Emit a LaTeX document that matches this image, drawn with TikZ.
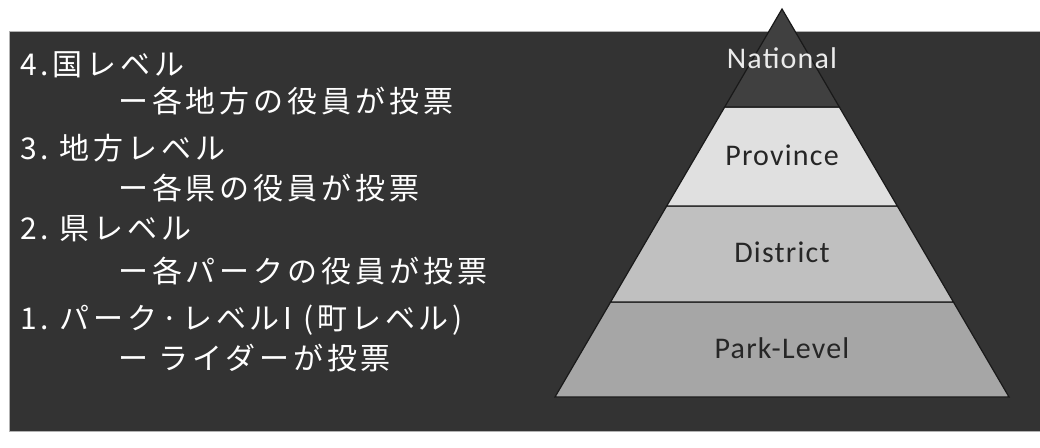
\documentclass[tikz,border=0pt]{standalone}
\usepackage{fontspec}
\newfontfamily\jp[LetterSpace=13]{Noto Sans CJK JP}
\newfontfamily\lat[LetterSpace=4]{Carlito}
\definecolor{bgdark}{HTML}{333333}
\definecolor{natfill}{HTML}{404040}
\definecolor{provfill}{HTML}{E0E0E0}
\definecolor{distfill}{HTML}{C0C0C0}
\definecolor{parkfill}{HTML}{A6A6A6}
\definecolor{txtdark}{HTML}{262626}
\tikzset{
  layer/.style={draw=black!90, line width=1.2pt, line join=miter},
  jptext/.style={anchor=base west, inner sep=0pt, text=white, font=\jp\fontsize{30}{30}\selectfont},
  lvl/.style={anchor=center, inner sep=0pt, font=\lat\fontsize{30}{30}\selectfont},
}
\begin{document}
\begin{tikzpicture}[x=1pt,y=-1pt]
\useasboundingbox (0,0) rectangle (1040,447);
\fill[white] (0,0) rectangle (1040,447);
\draw[fill=bgdark, draw=gray!60, line width=1pt] (9,31) rectangle (1045,431);
% pyramid
\draw[layer, fill=parkfill] (610.6,302) -- (953.4,302) -- (1009,397) -- (555,397) -- cycle;
\draw[layer, fill=distfill] (666.7,206) -- (897.3,206) -- (953.4,302) -- (610.6,302) -- cycle;
\draw[layer, fill=provfill] (724.7,107) -- (839.3,107) -- (897.3,206) -- (666.7,206) -- cycle;
\draw[layer, fill=natfill] (782,9) -- (839.3,107) -- (724.7,107) -- cycle;
\node[lvl, text=white!92!black] (nat) at (782,58) {National};
\node[lvl, text=txtdark] (prov) at (782,155) {Province};
\node[lvl, text=txtdark] (dist) at (782,252) {District};
\node[lvl, text=txtdark] (park) at (782,348) {Park-Level};
% left text
\node[jptext] (l4) at (20,75) {4.国レベル};
\node[jptext] (l4b) at (118,112) {ー各地方の役員が投票};
\node[jptext] (l3) at (20,159) {3.~地方レベル};
\node[jptext] (l3b) at (118,199) {ー各県の役員が投票};
\node[jptext] (l2) at (20,239) {2.~県レベル};
\node[jptext] (l2b) at (118,282) {ー各パークの役員が投票};
\node[jptext] (l1) at (20,329) {1.~パーク·レベルI (町レベル)};
\node[jptext] (l1b) at (118,369) {ー ライダーが投票};
\end{tikzpicture}
\end{document}
